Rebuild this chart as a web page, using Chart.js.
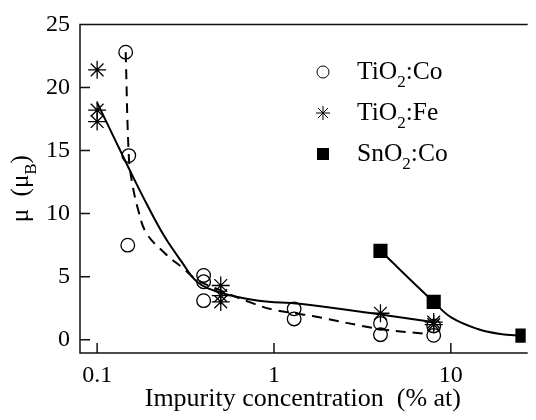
<!DOCTYPE html>
<html lang="en">
<head>
    <meta charset="UTF-8">
    <title>Magnetic moment vs impurity concentration</title>
    <script src="https://cdn.jsdelivr.net/npm/chart.js"></script>
    <style>
        body { margin: 0; background: #fff; }
    </style>
</head>
<body>
    <canvas id="mychart" width="536" height="420"></canvas>
    <script>
        // measured points
        const coX = [0.145, 0.151, 0.149, 0.4, 0.4, 0.4, 1.3, 1.3, 4, 4, 8, 8];
        const coY = [22.8, 14.6, 7.5, 5.1, 4.6, 3.1, 2.45, 1.65, 1.3, 0.4, 1.1, 0.35];
        const feX = [0.1, 0.1, 0.1, 0.5, 0.5, 0.5, 4, 8, 8];
        const feY = [21.4, 18.2, 17.3, 4.3, 3.5, 3.0, 2.1, 1.4, 1.2];
        const snX = [4, 8, 25.4];
        const snY = [7.05, 3.0, 0.33];

        // guide curves
        const fitFeX = [0.1, 0.151, 0.195, 0.24, 0.30, 0.367, 0.494, 0.82, 1.4, 4.0, 7.9];
        const fitFeY = [18.8, 13.6, 10.5, 8.2, 6.2, 4.6, 3.75, 3.1, 2.85, 2.0, 1.4];
        const fitCoX = [0.145, 0.151, 0.157, 0.171, 0.19, 0.24, 0.31, 0.367, 0.5, 0.755, 0.98, 1.37, 1.65, 4.0, 7.6];
        const fitCoY = [22.8, 14.6, 12.6, 10.25, 8.45, 6.9, 5.6, 4.75, 3.9, 2.9, 2.4, 2.06, 1.88, 0.85, 0.45];
        const fitSnX = [4, 8, 10.1, 14.2, 19, 25.4];
        const fitSnY = [7.05, 3.0, 1.75, 0.85, 0.46, 0.33];

        const xTicks = [0.1, 1, 10];
        const yTicks = [0, 5, 10, 15, 20, 25];
        const labels = ['TiO2:Co', 'TiO2:Fe', 'SnO2:Co'];

        const serif = "'Liberation Serif', 'Times New Roman', serif";
        Chart.defaults.font.family = serif;
        const pts = (xs, ys) => xs.map((x, i) => ({ x: x, y: ys[i] }));

        // draws text pieces, subscript pieces smaller and lowered
        function drawParts(ctx, parts, x, y, size) {
            parts.forEach(p => {
                ctx.font = (p.sub ? Math.round(size * 0.66) : size) + 'px ' + serif;
                ctx.fillText(p.t, x, y + (p.sub ? 8 : 0));
                x += ctx.measureText(p.t).width;
            });
        }
        function partsWidth(ctx, parts, size) {
            let w = 0;
            parts.forEach(p => {
                ctx.font = (p.sub ? Math.round(size * 0.66) : size) + 'px ' + serif;
                w += ctx.measureText(p.t).width;
            });
            return w;
        }
        function splitSub(s) {
            return s.split(/(\d)/).filter(t => t).map(t => ({ t: t, sub: /\d/.test(t) }));
        }

        const frame = {
            id: 'frame',
            beforeDatasetsDraw(chart) {
                const { ctx, chartArea: a, scales: { x, y } } = chart;
                ctx.save();
                ctx.strokeStyle = '#111';
                ctx.lineWidth = 1.5;
                ctx.beginPath();
                ctx.moveTo(a.right + 2, a.top);
                ctx.lineTo(a.left, a.top);
                ctx.lineTo(a.left, a.bottom);
                ctx.lineTo(a.right + 2, a.bottom);
                yTicks.forEach(v => {
                    const py = y.getPixelForValue(v);
                    ctx.moveTo(a.left, py);
                    ctx.lineTo(a.left + 10, py);
                });
                xTicks.forEach(v => {
                    const px = x.getPixelForValue(v);
                    ctx.moveTo(px, a.bottom);
                    ctx.lineTo(px, a.bottom - 10);
                });
                ctx.stroke();
                ctx.restore();
            },
            afterDraw(chart) {
                const { ctx, chartArea: a } = chart;
                ctx.save();
                ctx.fillStyle = '#000';
                ctx.textBaseline = 'alphabetic';

                // y title with subscript B
                const title = [{ t: 'μ  (μ', sub: false }, { t: 'B', sub: true }, { t: ')', sub: false }];
                const size = 25;
                const w = partsWidth(ctx, title, size);
                ctx.save();
                ctx.translate(28, (a.top + a.bottom) / 2);
                ctx.rotate(-Math.PI / 2);
                drawParts(ctx, title, -w / 2, 0, size);
                ctx.restore();

                // legend
                for (let i = 0; i < 3; i++) {
                    const ds = chart.data.datasets[i];
                    const sy = 72 + i * 41;
                    ctx.strokeStyle = '#000';
                    ctx.fillStyle = ds.pointBackgroundColor;
                    Chart.helpers.drawPoint(ctx, {
                        pointStyle: ds.pointStyle,
                        radius: [6, 7, 8.5][i],
                        borderWidth: ds.pointBorderWidth,
                        rotation: 0
                    }, 323, sy);
                    ctx.fillStyle = '#000';
                    drawParts(ctx, splitSub(ds.label), 357, sy + 7, 25.5);
                }
                ctx.restore();
            }
        };

        const chart = new Chart(document.querySelector('#mychart'), {
            type: 'scatter',
            data: {
                datasets: [
                    {
                        label: labels[0],
                        data: pts(coX, coY),
                        pointStyle: 'circle',
                        pointRadius: 6.8,
                        pointBorderWidth: 1.3,
                        pointBorderColor: '#000',
                        pointBackgroundColor: 'rgba(0,0,0,0)',
                        showLine: false,
                        order: 0
                    },
                    {
                        label: labels[1],
                        data: pts(feX, feY),
                        pointStyle: 'star',
                        pointRadius: 9,
                        pointBorderWidth: 1.3,
                        pointBorderColor: '#000',
                        pointBackgroundColor: '#000',
                        showLine: false,
                        order: 0
                    },
                    {
                        label: labels[2],
                        data: pts(snX, snY),
                        pointStyle: 'rect',
                        pointRadius: 10,
                        pointBorderWidth: 0,
                        pointBorderColor: '#000',
                        pointBackgroundColor: '#000',
                        showLine: false,
                        order: 0
                    },
                    {
                        label: 'fit Fe',
                        data: pts(fitFeX, fitFeY),
                        showLine: true,
                        borderColor: '#000',
                        borderWidth: 2,
                        pointRadius: 0,
                        tension: 0.4,
                        order: 1
                    },
                    {
                        label: 'fit Co',
                        data: pts(fitCoX, fitCoY),
                        showLine: true,
                        borderColor: '#000',
                        borderWidth: 2,
                        borderDash: [10, 7],
                        pointRadius: 0,
                        tension: 0.4,
                        order: 1
                    },
                    {
                        label: 'fit Sn',
                        data: pts(fitSnX, fitSnY),
                        showLine: true,
                        borderColor: '#000',
                        borderWidth: 2,
                        pointRadius: 0,
                        tension: 0.4,
                        order: 1
                    }
                ]
            },
            options: {
                responsive: false,
                devicePixelRatio: 1,
                animation: false,
                layout: { padding: { top: 18, right: 0, left: 0, bottom: 0 } },
                plugins: {
                    legend: { display: false },
                    tooltip: { enabled: false }
                },
                scales: {
                    x: {
                        type: 'logarithmic',
                        min: 0.08,
                        max: 26.5,
                        afterBuildTicks: s => { s.ticks = xTicks.map(v => ({ value: v })); },
                        afterFit: s => { s.height = 67; },
                        grid: { display: false, drawTicks: false },
                        border: { display: false },
                        ticks: {
                            autoSkip: false,
                            maxRotation: 0,
                            padding: 8,
                            color: '#000',
                            font: { family: serif, size: 24 },
                            callback: v => String(v)
                        },
                        title: {
                            display: true,
                            text: 'Impurity concentration  (% at)',
                            color: '#000',
                            font: { family: serif, size: 26 },
                            padding: { top: 0, bottom: 5 }
                        }
                    },
                    y: {
                        min: -1.05,
                        max: 25,
                        afterBuildTicks: s => { s.ticks = yTicks.map(v => ({ value: v })); },
                        afterFit: s => { s.width = 80; },
                        grid: { display: false, drawTicks: false },
                        border: { display: false },
                        ticks: {
                            padding: 10,
                            color: '#000',
                            font: { family: serif, size: 24 }
                        }
                    }
                }
            },
            plugins: [frame]
        });
    </script>
</body>
</html>
